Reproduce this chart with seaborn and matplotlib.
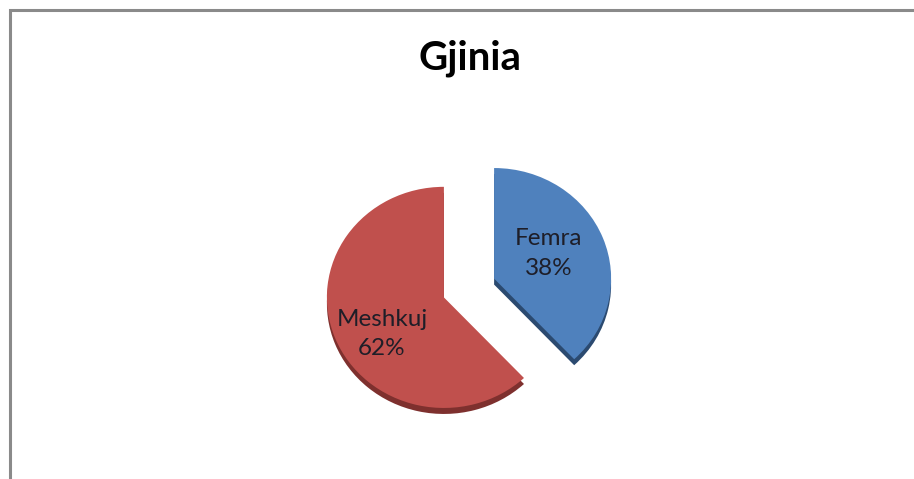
import matplotlib
matplotlib.use("Agg")
import matplotlib.pyplot as plt
import numpy as np
import seaborn as sns
from matplotlib.patches import Rectangle

# Data
categories = ["Femra", "Meshkuj"]
shares = [38, 62]
title = "Gjinia"

sns.set_theme(style="white")
plt.rcParams["font.family"] = ["Lato", "DejaVu Sans"]

face_colors = ["#4F81BD", "#C0504D"]
side_colors = ["#2B4A70", "#7E302E"]

W, H = 914, 479
SQUASH = 0.945          # slight vertical tilt of the pie
fig = plt.figure(figsize=(W / 100, H / 100), dpi=100)
fig.patch.set_facecolor("white")

# Axes covering the whole figure; y data units are stretched so circles look tilted
ax = fig.add_axes([0, 0, 1, 1])
YMAX = H / SQUASH


def py(y_from_top):
    return (H - y_from_top) / SQUASH


center = (469, py(288))
radius = 117
explode = [27, 27]
depth = 6 / SQUASH

# Dark underside of the slices, visible below the top faces
ax.pie(shares, colors=side_colors, startangle=90, counterclock=False,
       center=(center[0], center[1] - depth), radius=radius, explode=explode,
       wedgeprops=dict(linewidth=0), frame=True)

wedges, _ = ax.pie(shares, colors=face_colors, startangle=90, counterclock=False,
                   center=center, radius=radius, explode=explode,
                   wedgeprops=dict(linewidth=0), frame=True)

# Category and percentage labels inside each slice
label_frac = [0.50, 0.57]
label_shift = [5, -14]    # vertical nudge of each label block
for w, name, val, f, d in zip(wedges, categories, shares, label_frac, label_shift):
    ang = np.deg2rad((w.theta1 + w.theta2) / 2)
    cx, cy = w.center
    x = cx + w.r * f * np.cos(ang)
    y = cy + w.r * f * np.sin(ang) + d
    ax.text(x, y, f"{name}\n{val}%", ha="center", va="center",
            fontsize=17.5, color="#1e1e28", linespacing=1.5)

ax.set_xlim(0, W)
ax.set_ylim(0, YMAX)
ax.set_aspect("auto")
ax.axis("off")

# Chart area border
ax.add_patch(Rectangle((10, -10), W + 20, py(10) + 10, fill=False,
                       edgecolor="#8a8a8a", linewidth=2.2, clip_on=False))

ax.text(470, py(58), title, ha="center", va="center", fontsize=29,
        fontweight="bold", color="black")

fig.savefig("out.png", dpi=100, facecolor="white")
